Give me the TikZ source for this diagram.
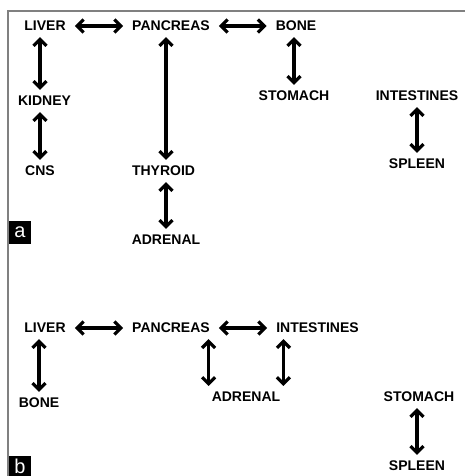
\documentclass[tikz,border=0pt]{standalone}
\usepackage{fontspec}
\setmainfont{Liberation Sans}
\usetikzlibrary{positioning,arrows.meta}
\tikzset{
organ/.style={font=\bfseries\fontsize{14}{16}\selectfont,inner xsep=3pt,inner ysep=0pt},
link/.style={<->,>={Straight Barb[length=6.5pt,width=13pt]},line width=3.2pt,
shorten >=6pt,shorten <=6pt},
tag/.style={fill=black,text=white,font=\fontsize{20}{20}\selectfont,
minimum width=22pt,inner sep=0pt},
frame/.style={draw=gray,line width=1.5pt},
}
\begin{document}
\begin{tikzpicture}[x=1pt,y=-1pt]
	\useasboundingbox (0,0) rectangle (465,476);
	\draw[frame] (465,11) -- (8,11) -- (8,476);

	% panel a
	\node[organ] (livera) at (45,26) {LIVER};
	\node[organ] (pancreasa) at (171,26) {PANCREAS};
	\node[organ] (bonea) at (296,26) {BONE};
	\node[organ] (kidney) at (44.5,101) {KIDNEY};
	\node[organ] (cns) at (40,171) {CNS};
	\node[organ] (thyroid) at (163.5,171) {THYROID};
	\node[organ] (adrenala) at (166,240) {ADRENAL};
	\node[organ] (stomacha) at (294,96) {STOMACH};
	\node[organ] (intestinesa) at (417,96) {INTESTINES};
	\node[organ] (spleena) at (417,164) {SPLEEN};
	\node[tag,minimum height=23pt] (taga) at (20,232.5) {a};

	\path[link]
	(livera) edge (pancreasa)
	(pancreasa) edge (bonea)
	(livera.south -| cns.north) edge (kidney.north -| cns.north)
	(kidney.south -| cns.north) edge (cns.north)
	(pancreasa.south -| adrenala.north) edge (thyroid.north -| adrenala.north)
	(thyroid.south -| adrenala.north) edge (adrenala.north)
	(bonea.south -| stomacha.north) edge (stomacha.north)
	(intestinesa.south -| spleena.north) edge (spleena.north)
	;

	% panel b
	\node[organ] (liverb) at (45,328) {LIVER};
	\node[organ] (pancreasb) at (171,328) {PANCREAS};
	\node[organ] (intestinesb) at (317.5,328) {INTESTINES};
	\node[organ] (boneb) at (39,403) {BONE};
	\node[organ] (adrenalb) at (246,397) {ADRENAL};
	\node[organ] (stomachb) at (419,397) {STOMACH};
	\node[organ] (spleenb) at (417,466) {SPLEEN};
	\node[tag,minimum height=20pt] (tagb) at (20,466) {b};

	\path[link]
	(liverb) edge (pancreasb)
	(pancreasb) edge (intestinesb)
	(liverb.south -| boneb.north) edge (boneb.north)
	(pancreasb.south -| adrenalb.north west) edge (adrenalb.north west)
	(intestinesb.south -| adrenalb.north east) edge (adrenalb.north east)
	(stomachb.south -| spleenb.north) edge (spleenb.north)
	;
\end{tikzpicture}
\end{document}
